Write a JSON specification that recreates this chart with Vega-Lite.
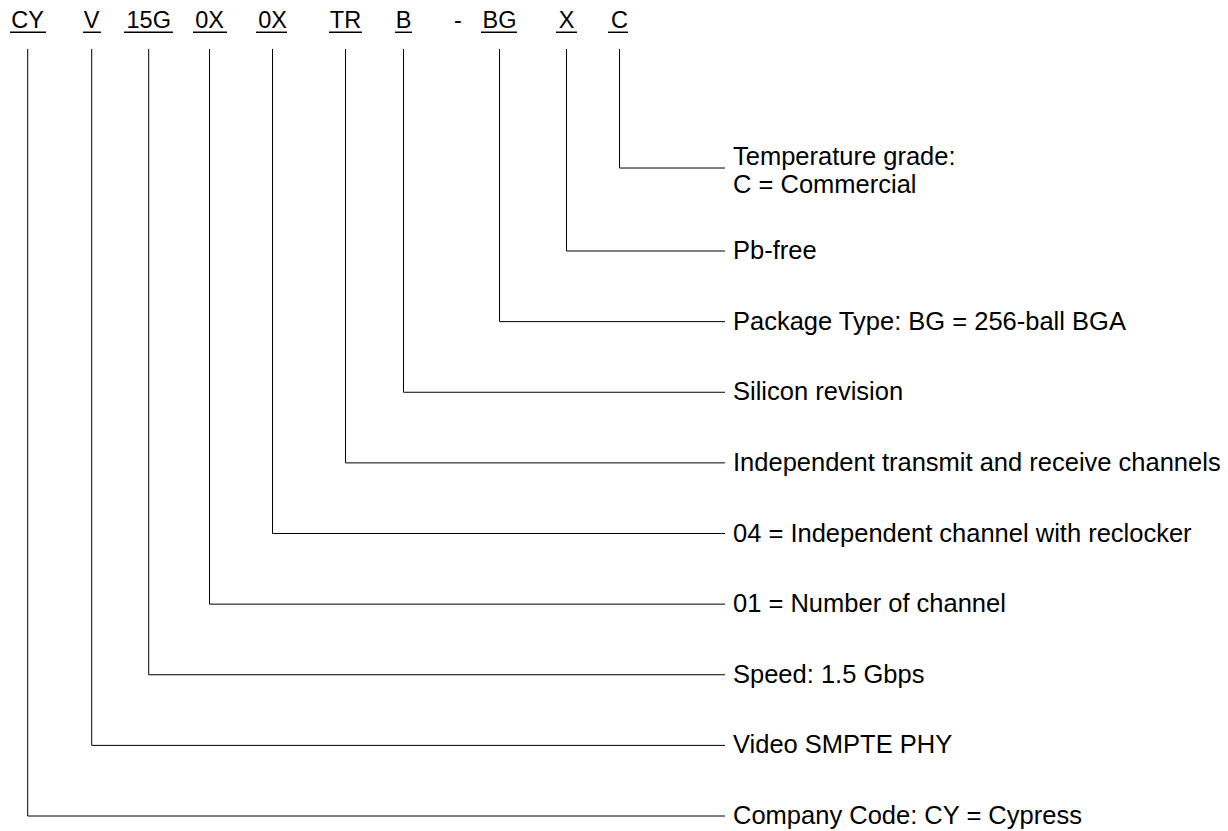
{
  "$schema": "https://vega.github.io/schema/vega-lite/v6.json",
  "width": 1228,
  "height": 831,
  "autosize": {"type": "fit", "contains": "padding"},
  "padding": 0,
  "background": "white",
  "config": {"view": {"stroke": null}, "font": "Liberation Sans"},
  "data": {
    "values": [
      {"code": "CY", "x": 27.7, "u0": 10, "u1": 46, "level": 0, "desc": "Company Code: CY = Cypress"},
      {"code": "V", "x": 91.7, "u0": 83, "u1": 101, "level": 1, "desc": "Video SMPTE PHY"},
      {"code": "15G", "x": 148.7, "u0": 124, "u1": 173, "level": 2, "desc": "Speed: 1.5 Gbps"},
      {"code": "0X", "x": 209.5, "u0": 193, "u1": 227, "level": 3, "desc": "01 = Number of channel"},
      {"code": "0X", "x": 272.5, "u0": 256, "u1": 287, "level": 4, "desc": "04 = Independent channel with reclocker"},
      {"code": "TR", "x": 345.5, "u0": 329, "u1": 362, "level": 5, "desc": "Independent transmit and receive channels"},
      {"code": "B", "x": 403.5, "u0": 395, "u1": 412, "level": 6, "desc": "Silicon revision"},
      {"code": "-", "x": 458},
      {"code": "BG", "x": 499.5, "u0": 481, "u1": 517, "level": 7, "desc": "Package Type: BG = 256-ball BGA"},
      {"code": "X", "x": 566.5, "u0": 556, "u1": 577, "level": 8, "desc": "Pb-free"},
      {"code": "C", "x": 619.5, "u0": 608, "u1": 628, "level": 9.175, "desc": "Temperature grade:\nC = Commercial"}
    ]
  },
  "layer": [
    {
      "transform": [{"filter": "isValid(datum.level)"}],
      "mark": {"type": "rule", "strokeWidth": 1, "color": "#000"},
      "encoding": {
        "x": {"field": "x", "type": "quantitative", "scale": {"domain": [0, 1228], "nice": false, "zero": false}, "axis": null},
        "y": {"field": "level", "type": "quantitative", "scale": {"domain": [-0.21239, 11.554], "nice": false, "zero": false}, "axis": null},
        "y2": {"datum": 10.86}
      }
    },
    {
      "transform": [{"filter": "isValid(datum.level)"}],
      "mark": {"type": "rule", "strokeWidth": 1, "color": "#000"},
      "encoding": {
        "x": {"field": "x", "type": "quantitative", "scale": {"domain": [0, 1228], "nice": false, "zero": false}, "axis": null},
        "x2": {"datum": 725},
        "y": {"field": "level", "type": "quantitative", "scale": {"domain": [-0.21239, 11.554], "nice": false, "zero": false}, "axis": null}
      }
    },
    {
      "mark": {"type": "text", "fontSize": 23.5, "baseline": "alphabetic", "align": "center", "color": "#000"},
      "encoding": {
        "x": {"field": "x", "type": "quantitative", "scale": {"domain": [0, 1228], "nice": false, "zero": false}, "axis": null},
        "y": {"datum": 11.153, "type": "quantitative", "scale": {"domain": [-0.21239, 11.554], "nice": false, "zero": false}, "axis": null},
        "text": {"field": "code", "type": "nominal"}
      }
    },
    {
      "transform": [{"filter": "isValid(datum.u0)"}],
      "mark": {"type": "rule", "strokeWidth": 1.5, "color": "#000"},
      "encoding": {
        "x": {"field": "u0", "type": "quantitative", "scale": {"domain": [0, 1228], "nice": false, "zero": false}, "axis": null},
        "x2": {"field": "u1"},
        "y": {"datum": 11.097, "type": "quantitative", "scale": {"domain": [-0.21239, 11.554], "nice": false, "zero": false}, "axis": null}
      }
    },
    {
      "transform": [{"filter": "isValid(datum.level) && indexof(datum.desc, '\\n') < 0"}],
      "mark": {"type": "text", "fontSize": 25.5, "baseline": "middle", "align": "left", "color": "#000"},
      "encoding": {
        "x": {"datum": 733, "type": "quantitative", "scale": {"domain": [0, 1228], "nice": false, "zero": false}, "axis": null},
        "y": {"field": "level", "type": "quantitative", "scale": {"domain": [-0.21239, 11.554], "nice": false, "zero": false}, "axis": null},
        "text": {"field": "desc", "type": "nominal"}
      }
    },
    {
      "transform": [{"filter": "isValid(datum.level) && indexof(datum.desc, '\\n') >= 0"}],
      "mark": {"type": "text", "fontSize": 25.5, "baseline": "middle", "align": "left", "color": "#000", "lineBreak": "\n", "lineHeight": 28, "dy": -10.6},
      "encoding": {
        "x": {"datum": 733, "type": "quantitative", "scale": {"domain": [0, 1228], "nice": false, "zero": false}, "axis": null},
        "y": {"field": "level", "type": "quantitative", "scale": {"domain": [-0.21239, 11.554], "nice": false, "zero": false}, "axis": null},
        "text": {"field": "desc", "type": "nominal"}
      }
    }
  ]
}
